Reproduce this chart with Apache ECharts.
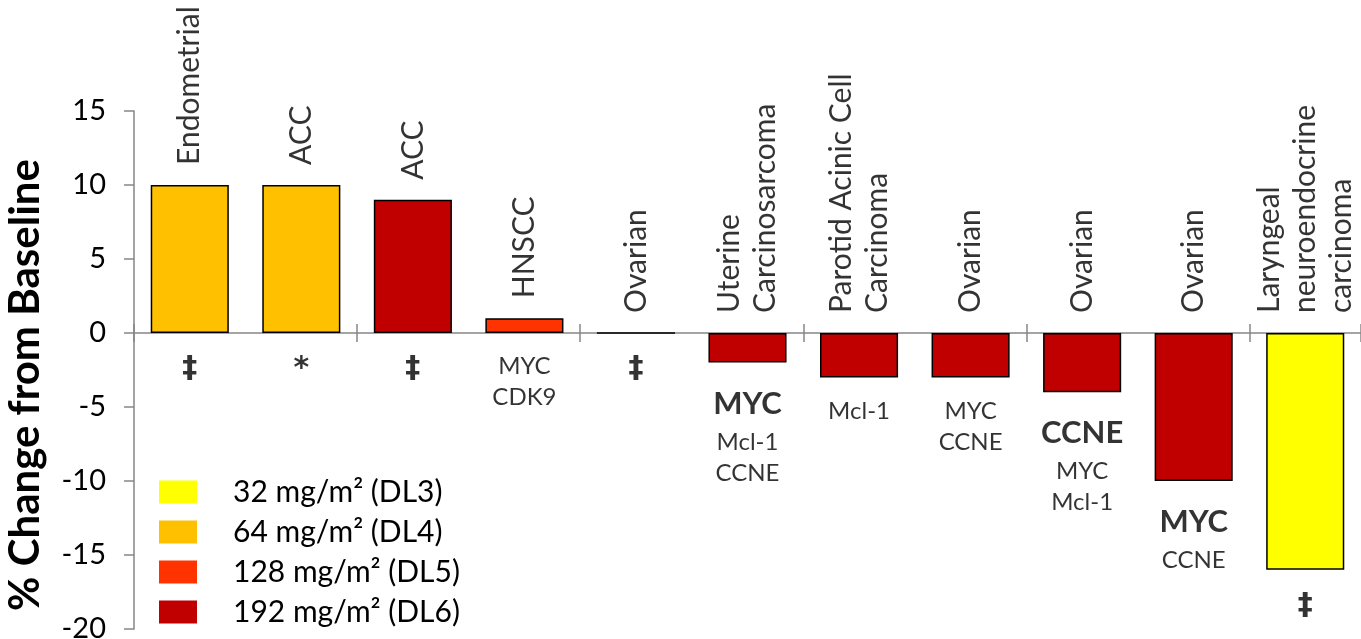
<!DOCTYPE html>
<html>
<head>
<meta charset="utf-8">
<script src="https://cdn.jsdelivr.net/npm/echarts@6/dist/echarts.min.js"></script>
<style>
  html, body { margin: 0; padding: 0; background: #fff; }
  #chart { width: 1361px; height: 639px; }
</style>
</head>
<body>
<div id="chart"></div>
<script>
// Tumour types, one bar per patient
const categories = [
  'Endometrial', 'ACC', 'ACC', 'HNSCC', 'Ovarian',
  'Uterine\nCarcinosarcoma', 'Parotid Acinic Cell\nCarcinoma',
  'Ovarian', 'Ovarian', 'Ovarian',
  'Laryngeal\nneuroendocrine\ncarcinoma'
];
// Best % change in tumour size from baseline
const changeFromBaseline = [10, 10, 9, 1, 0, -2, -3, -3, -4, -10, -16];
// Dose level each patient received
const patientDose = ['DL4', 'DL4', 'DL6', 'DL5', 'DL6', 'DL6', 'DL6', 'DL6', 'DL6', 'DL6', 'DL3'];
// Dose levels and their legend names
const doseLevels = ['DL3', 'DL4', 'DL5', 'DL6'];
const doseNames = ['32 mg/m\u00b2 (DL3)', '64 mg/m\u00b2 (DL4)', '128 mg/m\u00b2 (DL5)', '192 mg/m\u00b2 (DL6)'];
// Biomarker notes under each bar: a bold lead marker, then the others
const leadMarker = ['', '', '', '', '', 'MYC', '', '', 'CCNE', 'MYC', ''];
const otherMarkers = [
  ['\u2021'], ['*'], ['\u2021'], ['MYC', 'CDK9'], ['\u2021'],
  ['Mcl-1', 'CCNE'], ['Mcl-1'], ['MYC', 'CCNE'], ['MYC', 'Mcl-1'], ['CCNE'], ['\u2021']
];
// Value axis range
const yMin = -20, yMax = 15, yStep = 5;

const doseColors = { DL3: '#FFFF00', DL4: '#FFC000', DL5: '#FF3300', DL6: '#C00000' };
const FONT = 'Lato, "Open Sans", sans-serif';
const SYMBOL_FONT = '"DejaVu Sans", sans-serif';

const barSeries = doseLevels.map((d, k) => ({
  name: doseNames[k],
  type: 'bar',
  stack: 'dose',
  barCategoryGap: '30%',
  data: changeFromBaseline.map((v, i) => (patientDose[i] === d ? v : '-')),
  itemStyle: { color: doseColors[d], borderColor: '#000', borderWidth: 1.5 }
}));

// Tumour-type names sit above each bar (or above the zero line)
const nameSeries = {
  type: 'scatter',
  symbolSize: 0,
  silent: true,
  data: changeFromBaseline.map(v => Math.max(v, 0)),
  label: {
    show: true,
    position: 'top',
    distance: 20,
    rotate: 90,
    align: 'left',
    verticalAlign: 'middle',
    fontFamily: FONT,
    fontSize: 30,
    lineHeight: 36,
    color: '#000',
    formatter: p => categories[p.dataIndex]
  },
  z: 5
};

// Biomarker notes below each bar (or below the zero line)
const markerSeries = {
  type: 'scatter',
  symbolSize: 0,
  silent: true,
  data: changeFromBaseline.map(v => Math.min(v, 0)),
  label: {
    show: true,
    position: 'bottom',
    distance: 18,
    align: 'center',
    fontFamily: FONT,
    fontSize: 24,
    lineHeight: 31,
    color: '#000',
    formatter: p => {
      const i = p.dataIndex;
      const lines = [];
      if (leadMarker[i]) lines.push('{b|' + leadMarker[i] + '}');
      otherMarkers[i].forEach(m => lines.push(m.length === 1 && !/\w/.test(m) ? '{s|' + m + '}' : m));
      return lines.join('\n');
    },
    rich: {
      b: { fontFamily: FONT, fontSize: 31, fontWeight: 'bold', lineHeight: 46, color: '#000' },
      s: { fontFamily: SYMBOL_FONT, fontSize: 30, fontWeight: 'bold', lineHeight: 36, color: '#000' }
    }
  },
  z: 5
};

const axisGrey = '#868686';
const gridRect = { left: 134, right: 0, top: 111, bottom: 10, containLabel: false, outerBoundsMode: 'none' };
const chart = echarts.init(document.getElementById('chart'));
chart.setOption({
  animation: false,
  backgroundColor: '#fff',
  grid: [Object.assign({}, gridRect), Object.assign({}, gridRect)],
  legend: {
    data: doseNames,
    orient: 'vertical',
    left: 159,
    top: 475,
    padding: 0,
    itemWidth: 38,
    itemHeight: 23,
    itemGap: 6,
    icon: 'rect',
    itemStyle: { borderWidth: 0 },
    textStyle: { fontFamily: FONT, fontSize: 30, lineHeight: 34, color: '#000', padding: [0, 0, 0, 31] }
  },
  xAxis: [
    {
      type: 'category',
      gridIndex: 0,
      data: categories,
      position: 'bottom',
      axisLine: { onZero: true, lineStyle: { color: axisGrey, width: 1.5 } },
      axisTick: { show: true, length: 9, lineStyle: { color: axisGrey, width: 1.5 } },
      axisLabel: { show: false },
      splitLine: { show: false }
    },
    {
      // upper half of the crossing tick marks on the zero line
      type: 'category',
      gridIndex: 1,
      data: categories,
      position: 'top',
      axisLine: { show: false, onZero: true },
      axisTick: { show: true, length: 9, lineStyle: { color: axisGrey, width: 1.5 } },
      axisLabel: { show: false },
      splitLine: { show: false }
    }
  ],
  yAxis: [
    {
      type: 'value',
      gridIndex: 0,
      min: yMin,
      max: yMax,
      interval: yStep,
      name: '% Change from Baseline',
      nameLocation: 'middle',
      nameGap: 88,
      nameTextStyle: { fontFamily: FONT, fontSize: 42, fontWeight: 'bold', color: '#000', padding: [0, 30, 0, 0] },
      axisLine: { show: true, lineStyle: { color: axisGrey, width: 1.5 } },
      axisTick: { show: true, length: 10, lineStyle: { color: axisGrey, width: 1.5 } },
      axisLabel: { fontFamily: FONT, fontSize: 29, color: '#000', margin: 28 },
      splitLine: { show: false }
    },
    {
      type: 'value',
      gridIndex: 1,
      min: yMin,
      max: yMax,
      interval: yStep,
      show: false
    }
  ],
  series: [...barSeries, nameSeries, markerSeries]
});
</script>
</body>
</html>
